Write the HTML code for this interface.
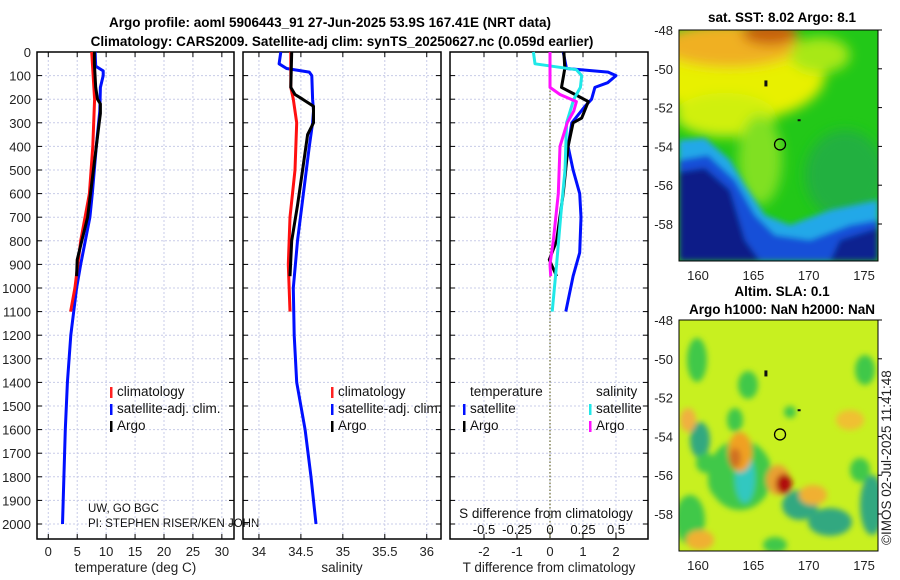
<!DOCTYPE html>
<html><head><meta charset="utf-8"><style>
body{margin:0;background:#fff;}
svg{display:block;font-family:"Liberation Sans","DejaVu Sans",sans-serif;}
</style></head><body>
<svg id="c" width="900" height="580" viewBox="0 0 900 580">
<defs>
<filter id="bl" x="-50%" y="-50%" width="200%" height="200%"><feGaussianBlur stdDeviation="6"/></filter>
<filter id="bl2" x="-50%" y="-50%" width="200%" height="200%"><feGaussianBlur stdDeviation="3"/></filter>
<clipPath id="m1"><rect x="679" y="30" width="199" height="231"/></clipPath>
<clipPath id="m2"><rect x="679" y="320" width="199" height="231"/></clipPath>
</defs>
<text x="330" y="27" text-anchor="middle" font-size="13.5" font-weight="bold">Argo profile: aoml 5906443_91 27-Jun-2025 53.9S 167.41E (NRT data)</text>
<text x="342" y="46" text-anchor="middle" font-size="13.5" font-weight="bold">Climatology: CARS2009. Satellite-adj clim: synTS_20250627.nc (0.059d earlier)</text>
<g id="panels"></g>
<g id="maps"></g>
</svg>
<script>
// ---------- data ----------
const depthTicks=[0,100,200,300,400,500,600,700,800,900,1000,1100,1200,1300,1400,1500,1600,1700,1800,1900,2000];
const tempTicks=[0,5,10,15,20,25,30];
const salTicks=[34,34.5,35,35.5,36];
const salTickLabels=["34","34.5","35","35.5","36"];
const tdiffTicks=[-2,-1,0,1,2];
const sdiffTicks=[-0.5,-0.25,0,0.25,0.5];
const sdiffLabels=["-0.5","-0.25","0","0.25","0.5"];

const climTdepth=[0,200,400,600,800,1000,1100];
const climTval=[7.5,8.0,7.7,7.1,5.6,4.6,3.85];
const satTdepth=[0,60,80,100,150,250,300,400,600,700,800,900,1000,1200,1400,1600,1800,2000];
const satTval=[8.1,8.2,9.5,9.5,9.0,8.9,8.7,8.3,7.6,7.2,6.4,5.6,4.9,3.9,3.3,2.95,2.7,2.45];
const argoTdepth=[0,50,150,200,220,260,300,400,600,700,800,880,950];
const argoTval=[7.97,7.97,8.2,8.5,9.0,9.0,8.8,8.3,7.3,6.8,5.8,5.0,4.9];

const climSdepth=[0,150,200,300,500,700,900,1100];
const climSval=[34.38,34.38,34.41,34.45,34.43,34.37,34.35,34.37];
const satSdepth=[0,50,70,85,100,200,250,300,400,600,800,1000,1200,1400,1600,1800,2000];
const satSval=[34.26,34.24,34.33,34.6,34.63,34.64,34.65,34.64,34.6,34.53,34.46,34.41,34.42,34.45,34.55,34.62,34.68];
const argoSdepth=[0,150,180,200,230,300,350,500,650,800,950];
const argoSval=[34.39,34.38,34.43,34.52,34.65,34.65,34.58,34.52,34.46,34.39,34.37];

const dTsatDepth=[0,70,85,100,130,150,200,230,300,400,500,600,700,850,950,1100];
const dTsatVal=[0.4,0.5,1.76,2.0,1.75,1.36,1.26,1.06,0.66,0.55,0.7,0.9,0.94,0.9,0.7,0.48];
const dTargoDepth=[0,70,150,180,210,280,300,400,600,800,880,950];
const dTargoVal=[0.42,0.45,0.35,0.76,1.16,0.96,0.7,0.55,0.4,0.2,-0.02,0.2];
const dSsatDepth=[0,50,75,100,150,200,300,500,700,900,1100];
const dSsatVal=[-0.126,-0.114,0.2,0.24,0.23,0.18,0.126,0.114,0.08,0.05,0.017];
const dSargoDepth=[0,150,180,210,250,300,400,600,800,900,950];
const dSargoVal=[0,0,0.076,0.2,0.18,0.13,0.076,0.063,0.025,0,0.005];

const latTicks=[-48,-50,-52,-54,-56,-58];
const lonTicks=[160,165,170,175];

// ---------- helpers ----------
const NS="http://www.w3.org/2000/svg";
function mk(tag,attrs,parent){const e=document.createElementNS(NS,tag);for(const k in attrs)e.setAttribute(k,attrs[k]);parent.appendChild(e);return e;}
const plotTop=52, yPerM=0.236;
const yD=d=>plotTop+d*yPerM;
const bottom=539;
const G=document.getElementById('panels');

function panel(name,x0,x1,vmin,vmax,ticks,labels,xlabel){
  const g=mk('g',{},G);
  
  
  const sx=v=>x0+(v-vmin)/(vmax-vmin)*(x1-x0);
  depthTicks.forEach(d=>{const l=mk('line',{x1:x0,x2:x1,y1:yD(d),y2:yD(d),stroke:'#c8cce8','stroke-dasharray':'2,2','stroke-width':1},g);
    
    
    mk('line',{x1:x0,x2:x0+5,y1:yD(d),y2:yD(d),stroke:'#000'},g);mk('line',{x1:x1-5,x2:x1,y1:yD(d),y2:yD(d),stroke:'#000'},g);});
  ticks.forEach((t,i)=>{const x=sx(t);
    const l=mk('line',{x1:x,x2:x,y1:plotTop,y2:bottom,stroke:'#c8cce8','stroke-dasharray':'2,2'},g);
    
    
    mk('line',{x1:x,x2:x,y1:bottom-5,y2:bottom,stroke:'#000'},g);mk('line',{x1:x,x2:x,y1:plotTop,y2:plotTop+5,stroke:'#000'},g);
    if(labels){const tx=mk('text',{x:x,y:556,'text-anchor':'middle','font-size':13,fill:'#222'},g);tx.textContent=labels[i];
      
      }
  });
  const fr=mk('rect',{x:x0,y:plotTop,width:x1-x0,height:bottom-plotTop,fill:'none',stroke:'#000','stroke-width':1.5},g);
  
  
  if(xlabel){const t=mk('text',{x:(x0+x1)/2,y:572,'text-anchor':'middle','font-size':13.5,fill:'#222'},g);t.textContent=xlabel;
    
    }
  return {g,sx};
}
function line(p,depths,vals,color,name,w){
  const pts=depths.map((d,i)=>p.sx(vals[i]).toFixed(1)+','+yD(d).toFixed(1)).join(' ');
  const l=mk('polyline',{points:pts,fill:'none',stroke:color,'stroke-width':w||3,'stroke-linejoin':'round'},p.g);
  
  
}
function legend(g,x,y,color,label,name){
  const r=mk('rect',{x:x,y:y-9,width:2.5,height:11,fill:color},g);
  
  
  const t=mk('text',{x:x+7,y:y,'font-size':13.5,fill:'#111'},g);t.textContent=label;
  
  
}

depthTicks.forEach(d=>{const t=mk('text',{x:31,y:yD(d)+5,'text-anchor':'end','font-size':13,fill:'#222'},G);t.textContent=d;
  
  });

// Panel 1
const p1=panel('temperature-panel',37,234,-1.95,32.1,tempTicks,tempTicks.map(String),'temperature (deg C)');
line(p1,satTdepth,satTval,'#0010ff','temp-satellite-line');
line(p1,climTdepth,climTval,'#ff1010','temp-climatology-line');
line(p1,argoTdepth,argoTval,'#000','temp-argo-line');
legend(p1.g,110,396,'#ff2020','climatology','legend-climatology');
legend(p1.g,110,413,'#0010ff','satellite-adj. clim.','legend-satellite');
legend(p1.g,110,430,'#000','Argo','legend-argo');
let tt=mk('text',{x:88,y:512,'font-size':11.5,fill:'#111'},p1.g);tt.textContent='UW, GO BGC';


tt=mk('text',{x:88,y:527,'font-size':11.5,fill:'#111'},p1.g);tt.textContent='PI: STEPHEN RISER/KEN JOHN';



// Panel 2
const p2=panel('salinity-panel',243,441,33.81,36.17,salTicks,salTickLabels,'salinity');
line(p2,satSdepth,satSval,'#0010ff','sal-satellite-line');
line(p2,climSdepth,climSval,'#ff1010','sal-climatology-line');
line(p2,argoSdepth,argoSval,'#000','sal-argo-line');
legend(p2.g,331,396,'#ff2020','climatology','legend-climatology');
legend(p2.g,331,413,'#0010ff','satellite-adj. clim.','legend-satellite');
legend(p2.g,331,430,'#000','Argo','legend-argo');

// Panel 3
const p3=panel('difference-panel',450,648,-3.03,2.97,tdiffTicks,tdiffTicks.map(String),'T difference from climatology');
const sxS=v=>550+v*132;
const zl=mk('line',{x1:550,x2:550,y1:plotTop,y2:bottom,stroke:'#6a6a30','stroke-dasharray':'1.5,2','stroke-width':1.2},p3.g);


line(p3,dTsatDepth,dTsatVal,'#0010ff','tdiff-satellite-line');
line(p3,dTargoDepth,dTargoVal,'#000','tdiff-argo-line');
const pS={g:p3.g,sx:sxS};
line(pS,dSsatDepth,dSsatVal,'#20e8e8','sdiff-satellite-line');
line(pS,dSargoDepth,dSargoVal,'#ff10ff','sdiff-argo-line');
tt=mk('text',{x:470,y:396,'font-size':13.5,fill:'#111'},p3.g);tt.textContent='temperature';


tt=mk('text',{x:596,y:396,'font-size':13.5,fill:'#111'},p3.g);tt.textContent='salinity';


legend(p3.g,463,413,'#0010ff','satellite','legend-t-satellite');
legend(p3.g,463,430,'#000','Argo','legend-t-argo');
legend(p3.g,589,413,'#20e8e8','satellite','legend-s-satellite');
legend(p3.g,589,430,'#ff10ff','Argo','legend-s-argo');
tt=mk('text',{x:546,y:518,'text-anchor':'middle','font-size':13.5,fill:'#111'},p3.g);tt.textContent='S difference from climatology';


sdiffTicks.forEach((v,i)=>{const tx=mk('text',{x:sxS(v),y:534,'text-anchor':'middle','font-size':13,fill:'#111'},p3.g);tx.textContent=sdiffLabels[i];
  
  });

// ---------- maps ----------
const M=document.getElementById('maps');
const mx=lon=>698+(lon-160)*11.07;
function map(name,y0,title1,title2,draw){
  const g=mk('g',{},M);
  
  
  const my=lat=>y0+(-48-lat)*19.4;
  const inner=mk('g',{'clip-path':'url(#'+(y0<100?'m1':'m2')+')'},g);
  draw(inner,my);
  mk('rect',{x:679,y:y0,width:199,height:231,fill:'none',stroke:'#000','stroke-width':1},g);
  latTicks.forEach(l=>{const tx=mk('text',{x:673,y:my(l)+5,'text-anchor':'end','font-size':13,fill:'#222'},g);tx.textContent=l;
    
    
    mk('line',{x1:878,x2:882,y1:my(l),y2:my(l),stroke:'#000'},g);});
  lonTicks.forEach(l=>{const tx=mk('text',{x:mx(l),y:y0+250,'text-anchor':'middle','font-size':13,fill:'#222'},g);tx.textContent=l;
    
    });
  const c=mk('circle',{cx:mx(167.41),cy:my(-53.9),r:5.5,fill:'none',stroke:'#000','stroke-width':1.3},g);
  
  
  mk('rect',{x:mx(166),y:my(-50.6),width:3,height:6,fill:'#111'},g);
  mk('rect',{x:mx(169),y:my(-52.6),width:3,height:2,fill:'#111'},g);
  if(title1){const tx=mk('text',{x:782,y:y0-24,'text-anchor':'middle','font-size':13.5,'font-weight':'bold'},g);tx.textContent=title1;
    
    }
  if(title2){const tx=mk('text',{x:782,y:y0-6,'text-anchor':'middle','font-size':13.5,'font-weight':'bold'},g);tx.textContent=title2;
    
    }
}
map('sst-map',30,null,null,(g,my)=>{
  mk('rect',{x:679,y:30,width:199,height:231,fill:'#22c818'},g);
  const b=mk('g',{filter:'url(#bl)'},g);
  mk('ellipse',{cx:740,cy:75,rx:85,ry:45,fill:'#e8f000'},b);
  mk('ellipse',{cx:725,cy:115,rx:50,ry:22,fill:'#d0f010'},b);
  mk('ellipse',{cx:730,cy:45,rx:70,ry:22,fill:'#f0b020'},b);
  mk('ellipse',{cx:770,cy:33,rx:28,ry:12,fill:'#c86010'},b);
  mk('ellipse',{cx:820,cy:55,rx:30,ry:18,fill:'#a8e818'},b);
  mk('ellipse',{cx:760,cy:160,rx:22,ry:45,fill:'#80e020'},b);
  mk('ellipse',{cx:845,cy:175,rx:40,ry:45,fill:'#20b040'},b);
  const d=mk('g',{filter:'url(#bl2)'},g);
  mk('path',{d:'M679,140 L705,138 L730,160 L745,185 L765,215 L790,225 L830,210 L878,200 L878,261 L679,261 Z',fill:'#20a8e8'},d);
  mk('path',{d:'M679,160 L708,155 L735,180 L755,215 L775,235 L810,240 L850,225 L878,220 L878,261 L679,261 Z',fill:'#1850d8'},d);
  mk('path',{d:'M679,172 L705,168 L730,190 L745,240 L760,261 L679,261 Z',fill:'#0c1a88'},d);
  mk('path',{d:'M840,240 L878,228 L878,261 L830,261 Z',fill:'#0c2090'},d);
});
map('sla-map',320,'Altim. SLA: 0.1','Argo h1000: NaN h2000: NaN',(g,my)=>{
  mk('rect',{x:679,y:320,width:199,height:231,fill:'#c8f020'},g);
  const b=mk('g',{filter:'url(#bl2)'},g);
  const blobs=[[697,360,10,22,'#40c848'],[748,385,10,14,'#40c848'],[700,440,10,18,'#30a880'],[735,420,8,12,'#40c848'],
   [740,475,32,35,'#40c848'],[745,478,10,25,'#30c8c0'],[720,480,12,18,'#40c848'],[706,463,10,10,'#40c848'],
   [740,452,12,20,'#f0a020'],[735,458,6,10,'#d07020'],[778,480,12,15,'#e8a030'],[784,484,8,10,'#b01010'],
   [800,505,18,15,'#30a880'],[830,522,22,14,'#30a880'],[872,505,12,30,'#30a880'],[860,470,10,12,'#40c848'],
   [690,520,15,25,'#40c848'],[775,545,12,8,'#40c848'],[700,540,14,10,'#f0b030'],[850,420,14,10,'#f0c030'],
   [813,495,14,10,'#f0b030'],[688,420,8,12,'#f0b040'],[865,370,10,15,'#40c848'],[790,412,6,6,'#40c848']];
  blobs.forEach(a=>mk('ellipse',{cx:a[0],cy:a[1],rx:a[2],ry:a[3],fill:a[4]},b));
});
const cp=mk('text',{x:891,y:545,'font-size':13.5,fill:'#222',transform:'rotate(-90 891 545)'},M);
cp.textContent='©IMOS 02-Jul-2025 11:41:48';


const st=mk('text',{x:782,y:22,'text-anchor':'middle','font-size':13.5,'font-weight':'bold'},M);
st.textContent='sat. SST: 8.02 Argo: 8.1';


</script>
</body></html>
